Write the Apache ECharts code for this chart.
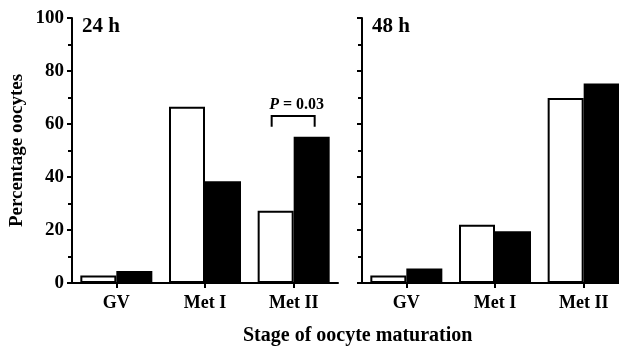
<!DOCTYPE html>
<html>
<head>
<meta charset="utf-8">
<script src="https://cdn.jsdelivr.net/npm/echarts@6/dist/echarts.min.js"></script>
<style>
  html, body { margin: 0; padding: 0; background: #fff; }
  #chart { width: 619px; height: 349px; }
</style>
</head>
<body>
<div id="chart"></div>
<script>
// Stades de maturation
const categories = ['GV', 'Met I', 'Met II'];
// Pourcentages
const white24 = [2.8, 66.5, 27.3];
const black24 = [4.5, 38.4, 55.2];
const white48 = [2.8, 22, 69.8];
const black48 = [5.5, 19.5, 75.3];
const yTicks = [0, 20, 40, 60, 80, 100];
// Crochet de significativité (Met II, 24 h)
const bracketY = [63, 59];
const pLabel = 'P = 0.03';

const FONT = '"Liberation Serif", "Times New Roman", serif';

const chart = echarts.init(document.getElementById('chart'));

function yAxis(gridIndex, showLabels) {
    return {
        type: 'value',
        gridIndex: gridIndex,
        min: yTicks[0],
        max: yTicks[yTicks.length - 1],
        interval: 20,
        name: showLabels ? 'Percentage oocytes' : '',
        nameLocation: 'middle',
        nameGap: 45,
        nameTextStyle: { fontFamily: FONT, fontWeight: 'bold', fontSize: 19, color: '#000' },
        axisLine: { show: true, lineStyle: { color: '#000', width: 2 } },
        axisTick: { show: true, length: 5, lineStyle: { color: '#000', width: 2 } },
        minorTick: { show: true, splitNumber: 2, length: 4, lineStyle: { color: '#000', width: 2 } },
        splitLine: { show: false },
        axisLabel: {
            show: showLabels,
            margin: 8,
            fontFamily: FONT, fontWeight: 'bold', fontSize: 19, color: '#000'
        }
    };
}

function xAxis(gridIndex) {
    return {
        type: 'category',
        gridIndex: gridIndex,
        data: categories,
        axisLine: { show: true, lineStyle: { color: '#000', width: 2 } },
        axisTick: { show: true, alignWithLabel: true, length: 5, lineStyle: { color: '#000', width: 2 } },
        axisLabel: { margin: 11, fontFamily: FONT, fontWeight: 'bold', fontSize: 18, color: '#000' }
    };
}

function barSeries(idx, data, filled) {
    return {
        type: 'bar',
        xAxisIndex: idx,
        yAxisIndex: idx,
        data: data,
        barWidth: 36,
        barGap: '0%',
        silent: true,
        itemStyle: {
            color: filled ? '#000' : '#fff',
            borderColor: '#000',
            borderWidth: 2
        }
    };
}

const option = {
    backgroundColor: '#fff',
    animation: false,
    title: [
        { text: '24 h', left: 77, top: 11, textStyle: { fontFamily: FONT, fontWeight: 'bold', fontSize: 21, color: '#000' } },
        { text: '48 h', left: 367, top: 11, textStyle: { fontFamily: FONT, fontWeight: 'bold', fontSize: 21, color: '#000' } },
        { text: 'Stage of oocyte maturation', left: 238, top: 321, textStyle: { fontFamily: FONT, fontWeight: 'bold', fontSize: 20, color: '#000' } }
    ],
    grid: [
        { left: 72, width: 266, top: 18, bottom: 66, outerBoundsMode: 'none' },
        { left: 362, width: 266, top: 18, bottom: 66, outerBoundsMode: 'none' }
    ],
    xAxis: [xAxis(0), xAxis(1)],
    yAxis: [yAxis(0, true), yAxis(1, false)],
    series: [
        barSeries(0, white24, false),
        barSeries(0, black24, true),
        barSeries(1, white48, false),
        barSeries(1, black48, true),
        {
            type: 'custom',
            xAxisIndex: 0,
            yAxisIndex: 0,
            silent: true,
            z: 10,
            data: [[2, bracketY[0], bracketY[1]]],
            renderItem: function (params, api) {
                const top = api.coord([api.value(0), api.value(1)]);
                const bottom = api.coord([api.value(0), api.value(2)]);
                const x1 = top[0] - 22;
                const x2 = top[0] + 21;
                return {
                    type: 'group',
                    children: [
                        {
                            type: 'polyline',
                            shape: { points: [[x1, bottom[1]], [x1, top[1]], [x2, top[1]], [x2, bottom[1]]] },
                            style: { stroke: '#000', lineWidth: 2, fill: null }
                        },
                        {
                            type: 'text',
                            x: top[0] + 3,
                            y: top[1] - 3,
                            style: {
                                text: '{i|P} = 0.03',
                                align: 'center',
                                verticalAlign: 'bottom',
                                font: 'bold 16px ' + FONT,
                                fill: '#000',
                                rich: {
                                    i: { fontStyle: 'italic', fontWeight: 'bold', fontSize: 16, fontFamily: FONT }
                                }
                            }
                        }
                    ]
                };
            }
        }
    ]
};

chart.setOption(option);
</script>
</body>
</html>
